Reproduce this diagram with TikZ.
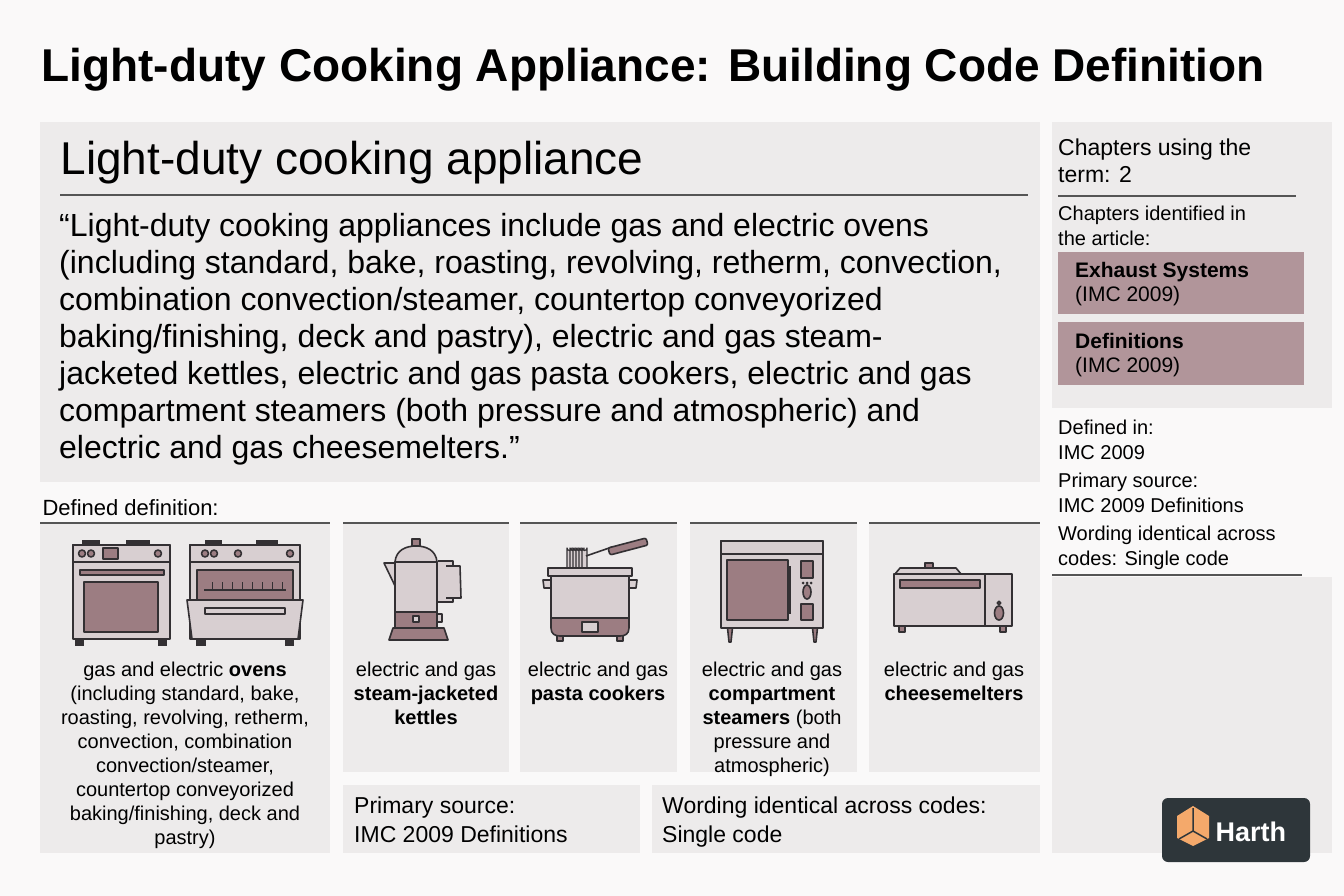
\documentclass[tikz,border=0pt]{standalone}
\usepackage{fontspec}
\setmainfont{Liberation Sans}
\begin{document}
\begin{tikzpicture}[x=1pt,y=-1pt,line join=round,
  panel/.style={fill=pbg,draw=none},
  ic/.style={draw=ink,line width=1.6pt,fill=body},
  icd/.style={draw=ink,line width=1.6pt,fill=dark},
  rule/.style={draw=rulec,line width=1.2pt},
  cell/.style={font=\fontsize{20}{24}\selectfont,align=center,anchor=north},
  side/.style={font=\fontsize{20}{24.5}\selectfont,anchor=north west,align=left,inner sep=0pt}]
\definecolor{bgc}{HTML}{FAF9F9}
\definecolor{pbg}{HTML}{EDEBEB}
\definecolor{ink}{HTML}{333033}
\definecolor{body}{HTML}{D8CFD1}
\definecolor{dark}{HTML}{9C7D82}
\definecolor{chip}{HTML}{B1959A}
\definecolor{rulec}{HTML}{555555}
\definecolor{logo}{HTML}{2E363A}
\definecolor{orng}{HTML}{F4A96B}
\useasboundingbox (0,0) rectangle (1344,896);
\fill[bgc] (0,0) rectangle (1344,896);
\node[anchor=base west,font=\fontsize{46}{50}\selectfont\bfseries] (title) at (38,82) {Light-duty Cooking Appliance: Building Code Definition};
% main panel
\fill[pbg] (40,122) rectangle (1040,482);
\node[anchor=base west,font=\fontsize{46}{50}\selectfont] (hdr) at (57,175) {Light-duty cooking appliance};
\draw[rule] (60,195) -- (1028,195);
\node[anchor=north west,align=left,inner sep=0pt,font=\fontsize{32}{37}\selectfont] (quote) at (59,213) {“Light-duty cooking appliances include gas and electric ovens\\(including standard, bake, roasting, revolving, retherm, convection,\\combination convection/steamer, countertop conveyorized\\baking/finishing, deck and pastry), electric and gas steam-\\jacketed kettles, electric and gas pasta cookers, electric and gas\\compartment steamers (both pressure and atmospheric) and\\electric and gas cheesemelters.”};
% right panel
\fill[pbg] (1052,122) rectangle (1332,408);
\fill[pbg] (1052,577) rectangle (1332,853);
\node[side,font=\fontsize{23}{27}\selectfont] (cu) at (1058,139) {Chapters using the\\term: 2};
\draw[rule] (1058,196) -- (1296,196);
\node[side] (ci) at (1058,206) {Chapters identified in\\the article:};
\fill[chip] (1058,252) rectangle (1304,314);
\fill[chip] (1058,322) rectangle (1304,385);
\node[side,font=\fontsize{21}{24.5}\selectfont] (ch1) at (1075,262) {\textbf{Exhaust Systems}\\(IMC 2009)};
\node[side,font=\fontsize{21}{24.5}\selectfont] (ch2) at (1075,333) {\textbf{Definitions}\\(IMC 2009)};
\node[side,font=\fontsize{20}{25}\selectfont] (def) at (1058,420) {Defined in:\\IMC 2009\\[3pt]Primary source:\\IMC 2009 Definitions\\[3pt]Wording identical across\\codes: Single code};
\draw[rule] (1052,575) -- (1302,575);
% defined definition
\node[anchor=base west,font=\fontsize{22}{26}\selectfont] (dd) at (39,515) {Defined definition:};
\fill[pbg] (40,523) rectangle (330,853);
\fill[pbg] (343,523) rectangle (509,772);
\fill[pbg] (520,523) rectangle (677,772);
\fill[pbg] (690,523) rectangle (857,772);
\fill[pbg] (869,523) rectangle (1040,772);
\draw[rule] (40,523) -- (330,523);
\draw[rule] (343,523) -- (509,523);
\draw[rule] (520,523) -- (677,523);
\draw[rule] (690,523) -- (857,523);
\draw[rule] (869,523) -- (1040,523);
\node[cell] (c1) at (185,658) {gas and electric \textbf{ovens}\\(including standard, bake,\\roasting, revolving, retherm,\\convection, combination\\convection/steamer,\\countertop conveyorized\\baking/finishing, deck and\\pastry)};
\node[cell] (c2) at (426,658) {electric and gas\\\textbf{steam-jacketed}\\\textbf{kettles}};
\node[cell] (c3) at (598,658) {electric and gas\\\textbf{pasta cookers}};
\node[cell] (c4) at (772,658) {electric and gas\\\textbf{compartment}\\\textbf{steamers} (both\\pressure and\\atmospheric)};
\node[cell] (c5) at (954,658) {electric and gas\\\textbf{cheesemelters}};
\fill[pbg] (343,785) rectangle (640,853);
\fill[pbg] (652,785) rectangle (1040,853);
\node[side,font=\fontsize{23}{29}\selectfont] (ps) at (354,797) {Primary source:\\IMC 2009 Definitions};
\node[side,font=\fontsize{23}{29}\selectfont] (wi) at (662,797) {Wording identical across codes:\\Single code};
% logo
\fill[logo,rounded corners=6pt] (1162,798) rectangle (1310,862);
\fill[orng] (1177,816) -- (1193,806) -- (1209,816) -- (1209,838) -- (1193,846) -- (1177,838) -- cycle;
\draw[logo,line width=1.5pt] (1193,808) -- (1193,831) -- (1179,839) (1193,831) -- (1207,839);
\node[anchor=base west,text=white,font=\fontsize{27}{30}\selectfont\bfseries] (lg) at (1212,841) {Harth};
% ---- icons ----
% oven 1
\fill[ink] (75,638) rectangle (84,646); \fill[ink] (158,638) rectangle (167,646);
\fill[ink] (82,540) rectangle (100,545); \fill[ink] (126,540) rectangle (150,545);
\draw[ic] (73,545) rectangle (170,639);
\draw[ic] (73,545) rectangle (170,562);
\foreach \x in {82,91,158} \draw[icd] (\x,553.5) circle (3.5);
\draw[icd] (103,548) rectangle (118,559);
\draw[icd] (80,570) rectangle (164,575);
\draw[icd] (84,582) rectangle (158,632);
% oven 2
\fill[ink] (196,638) rectangle (206,646); \fill[ink] (285,638) rectangle (294,646);
\fill[ink] (205,540) rectangle (222,545); \fill[ink] (256,540) rectangle (278,545);
\draw[ic] (190,545) rectangle (300,639);
\draw[ic] (190,545) rectangle (300,562);
\foreach \x in {205,214,238,290} \draw[icd] (\x,553.5) circle (3.5);
\draw[icd] (197,570) rectangle (293,602);
\draw[ink,line width=1.2pt] (204,590) -- (286,590);
\foreach \x in {212,222,...,282} \draw[ink,line width=1pt] (\x,582) -- (\x,590);
\draw[ic] (187,600) -- (303,600) -- (298,639) -- (192,639) -- cycle;
\draw[ic] (205,608) rectangle (285,614);
% kettle
\draw[icd] (393,628) -- (444,628) -- (448,640) -- (389,640) -- cycle;
\draw[ic] (438,561) -- (453,561) -- (453,602) -- (438,602);
\draw[body,line width=6pt] (445,563) -- (445,600);
\draw[ic] (446,566) -- (460,566) -- (461,598) -- (446,598);
\draw[ic] (384,563) -- (395,563) -- (397,590) -- cycle;
\draw[ic] (395,562) .. controls (396,550) and (406,546) .. (416,546) .. controls (426,546) and (436,550) .. (437,562) -- cycle;
\draw[icd] (412,539) rectangle (420,546);
\draw[ic] (395,562) rectangle (437,612);
\draw[icd] (395,612) rectangle (437,628);
\draw[ic] (437,614) rectangle (442,622);
\draw[ic] (413,616) rectangle (419,622);
% pasta pot
\draw[icd] (557,630) rectangle (563,641); \draw[icd] (617,630) rectangle (623,641);
\draw[ic] (551,580) -- (543,580) -- (544,588) -- (552,588);
\draw[ic] (629,580) -- (637,580) -- (636,588) -- (628,588);
\draw[ic] (551,575) rectangle (629,618);
\draw[icd] (551,618) -- (629,618) -- (629,628) .. controls (629,634) and (625,636) .. (620,636) -- (560,636) .. controls (555,636) and (551,634) .. (551,628) -- cycle;
\draw[ic] (582,622) rectangle (598,632);
\foreach \x in {567,570,573,576,579,582} \draw[ink,line width=1.2pt,fill=body] (\x,575) -- (\x,548) arc (180:0:2.5) -- (\x+5,575);
\draw[ink,line width=1.6pt] (586,556) -- (612,547);
\draw[icd,rounded corners=2pt] (608,548) -- (646,538) -- (648,545) -- (610,555) -- cycle;
\draw[ic] (548,568) rectangle (632,576);
% microwave
\draw[icd] (727,623) -- (733,623) -- (731,642) -- (729,642) -- cycle;
\draw[icd] (812,623) -- (818,623) -- (816,642) -- (814,642) -- cycle;
\draw[ic] (721,541) rectangle (823,628);
\draw[ic] (721,541) rectangle (823,554);
\draw[icd] (727,560) rectangle (788,620);
\draw[ink,line width=1.3pt] (790,566) -- (790,614);
\draw[icd] (801,561) rectangle (813,578);
\foreach \x in {803,807,811} \fill[ink] (\x,583) circle (1.5);
\draw[icd] (807,592) ellipse (4 and 7);
\draw[icd] (801,604) rectangle (813,620);
% cheesemelter
\draw[icd] (899,624) rectangle (905,632); \draw[icd] (1000,624) rectangle (1006,632);
\draw[ic] (895,574) -- (900,568) -- (956,568) -- (961,574);
\draw[icd] (925,563) rectangle (933,568);
\draw[ic] (894,574) rectangle (1012,626);
\draw[ink,line width=1.6pt] (985,574) -- (985,626);
\draw[icd] (900,580) rectangle (980,588);
\draw[icd] (999,603) circle (1.8);
\draw[icd] (999,613) ellipse (4.5 and 7);
\end{tikzpicture}
\end{document}
